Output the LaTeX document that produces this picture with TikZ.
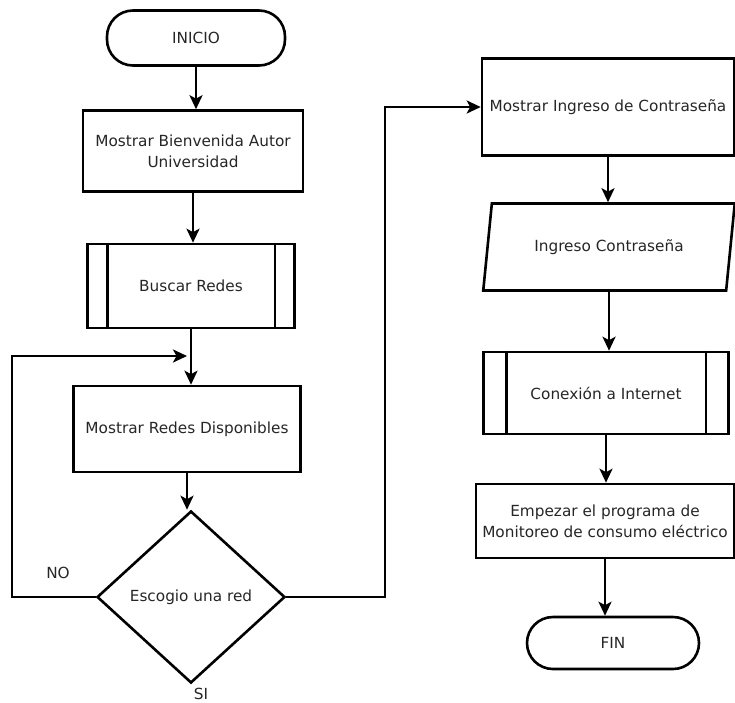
\documentclass[tikz,border=0pt]{standalone}
\usepackage{fontspec}
\setmainfont{DejaVu Sans}
\usepackage{tikz}
\usetikzlibrary{arrows.meta,shapes.geometric,calc}
\tikzset{
  FlowLine/.style={line width=2.6pt},
  FlowArrow/.style={FlowLine, -{Stealth[length=14pt,width=13pt,inset=3.5pt]}},
  ProcBox/.style={draw, FlowLine, rectangle, align=center, inner sep=0pt},
  Terminal/.style={draw, FlowLine, rectangle, rounded corners=26pt, inner sep=0pt},
  Decision/.style={draw, FlowLine, diamond, inner sep=0pt},
  InputBox/.style={draw, FlowLine, trapezium, trapezium left angle=70,
    trapezium right angle=110, trapezium stretches=true, inner sep=0pt}
}
% side bars of a predefined process
\newcommand{\SubBars}[2]{%
  % #1 = node, #2 = bar offset
  \draw[FlowLine] ([xshift=#2]#1.north west) -- ([xshift=#2]#1.south west);
  \draw[FlowLine] ([xshift=-#2]#1.north east) -- ([xshift=-#2]#1.south east);
}

\begin{document}
\begin{tikzpicture}[x=1pt, y=-1pt, line cap=butt, line join=miter,
  every node/.style={font=\fontsize{15.3}{21}\selectfont, text=black!85}]
  \useasboundingbox (0,0) rectangle (735,702);

  % left column
  \node[Terminal, minimum width=178pt, minimum height=55pt] (inicio) at (196,38) {INICIO};
  \node[ProcBox, minimum width=220pt, minimum height=81pt] (bienv) at (193,151)
    {Mostrar Bienvenida Autor\\Universidad};
  \node[ProcBox, minimum width=207pt, minimum height=84pt] (buscar) at (191,286) {Buscar Redes};
  \SubBars{buscar}{21pt}
  \node[ProcBox, minimum width=227pt, minimum height=86pt] (disp) at (187,429)
    {Mostrar Redes Disponibles};
  \node[Decision, minimum width=188pt, minimum height=172pt] (elige) at (191,597) {Escogio una red};

  % right column
  \node[ProcBox, minimum width=252pt, minimum height=97pt] (clave) at (608,107)
    {Mostrar Ingreso de Contraseña};
  \node[InputBox, minimum width=252pt, minimum height=87pt] (ingreso) at (609,247)
    {Ingreso Contraseña};
  \node[ProcBox, minimum width=245pt, minimum height=82pt] (conex) at (606,393)
    {Conexión a Internet};
  \SubBars{conex}{24pt}
  \node[ProcBox, minimum width=258pt, minimum height=74pt] (empezar) at (605,521)
    {Empezar el programa de\\Monitoreo de consumo eléctrico};
  \node[Terminal, minimum width=172pt, minimum height=52pt] (fin) at (613,643) {FIN};

  % branch labels
  \node (no) at (58,573) {NO};
  \node (si) at (201,694) {SI};

  % loop and jump points
  \coordinate (junta) at (187,356);
  \coordinate (izq) at (12,597);
  \coordinate (der) at (385,597);

  % connectors
  \draw[FlowArrow] (inicio.south) -- (inicio.south |- bienv.north);
  \draw[FlowArrow] (bienv.south) -- (bienv.south |- buscar.north);
  \draw[FlowArrow] (buscar.south) -- (buscar.south |- disp.north);
  \draw[FlowArrow] (disp.south) -- (disp.south |- elige.north);
  \draw[FlowArrow] (elige.west) -- (izq) |- (junta);
  \draw[FlowArrow] (elige.east) -- (der) |- (clave.west);
  \draw[FlowArrow] (clave.south) -- (clave.south |- ingreso.north);
  \draw[FlowArrow] (ingreso.south) -- (ingreso.south |- conex.north);
  \draw[FlowArrow] (conex.south) -- (conex.south |- empezar.north);
  \draw[FlowArrow] (empezar.south) -- (empezar.south |- fin.north);
\end{tikzpicture}
\end{document}
